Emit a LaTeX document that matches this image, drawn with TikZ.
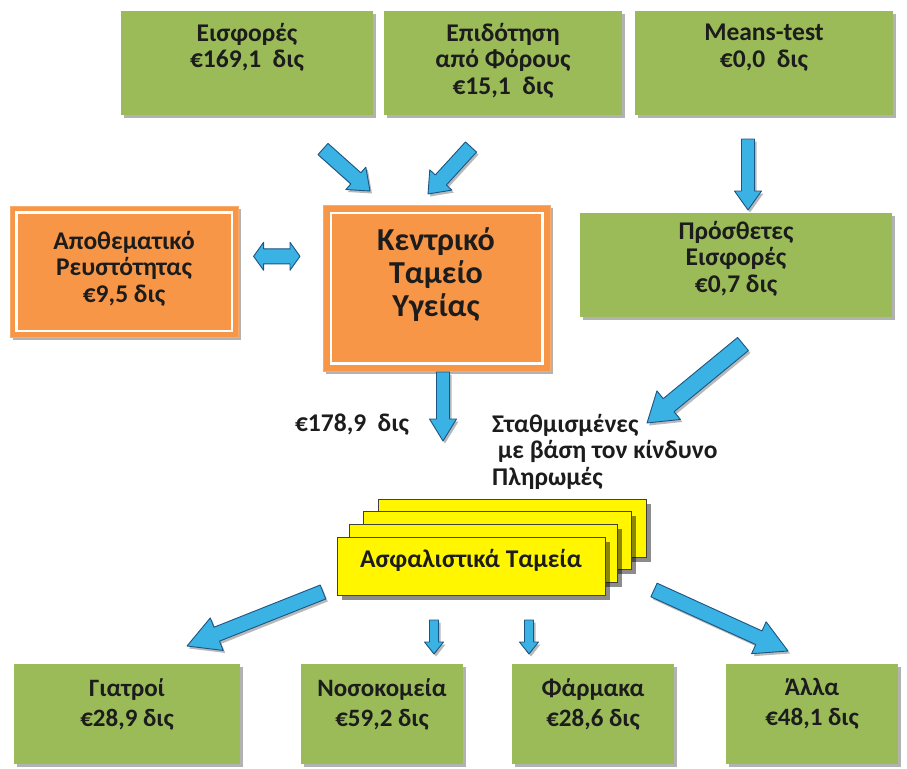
\documentclass[tikz,border=0pt]{standalone}
\usepackage{fontspec}
\setmainfont{Carlito}
\usetikzlibrary{calc,shadows}

\definecolor{boxgreen}{RGB}{155,187,89}
\definecolor{boxorange}{RGB}{247,150,70}
\definecolor{cardyellow}{RGB}{255,246,0}
\definecolor{arrowblue}{RGB}{58,178,228}
\definecolor{arrowedge}{RGB}{28,84,130}
\definecolor{inkdark}{RGB}{28,28,28}

\tikzset{
  boxshadow/.style={drop shadow={shadow xshift=3pt, shadow yshift=-3pt, opacity=0.3, fill=black}},
  greenbox/.style={rectangle, anchor=north west, inner sep=0pt, fill=boxgreen, draw=none, boxshadow},
  orangebox/.style={rectangle, anchor=north west, inner sep=0pt, fill=boxorange, draw=boxorange!80!white, line width=0.6pt, boxshadow},
  cardbox/.style={rectangle, anchor=north west, inner sep=0pt, minimum width=268pt, minimum height=58pt,
    fill=cardyellow, draw=black!75, line width=1.3pt,
    drop shadow={shadow xshift=4pt, shadow yshift=-4pt, opacity=0.45, fill=black}},
  boxtext/.style={inner sep=0pt, align=center, text=inkdark, font=\fontsize{25.5}{26.5}\selectfont\bfseries},
  bigtext/.style={inner sep=0pt, align=center, text=inkdark, font=\fontsize{32}{33}\selectfont\bfseries},
  lowtext/.style={inner sep=0pt, align=center, text=inkdark, font=\fontsize{25}{30}\selectfont\bfseries},
  blockarrow/.style={fill=arrowblue, draw=arrowedge, line width=0.9pt, line join=round},
  arrowshadow/.style={fill=black, opacity=0.28, draw=none},
}

% block arrow from tail #1 to tip #2; shaft width #3, head width #4, head length #5
\newcommand\blockarrow[5]{%
  \path let \p1=($(#2)-(#1)$) in \pgfextra{%
    \pgfmathsetmacro\baAng{atan2(\y1,\x1)}%
    \pgfmathsetmacro\baLen{veclen(\x1,\y1)}%
    \global\let\baAng\baAng \global\let\baLen\baLen};
  \begin{scope}[shift={(#1)}, xshift=2pt, yshift=-2.5pt, rotate=\baAng]
    \fill[arrowshadow] (0,-#3/2) -- ({\baLen-#5},-#3/2) -- ({\baLen-#5},-#4/2) -- (\baLen,0)
      -- ({\baLen-#5},#4/2) -- ({\baLen-#5},#3/2) -- (0,#3/2) -- cycle;
  \end{scope}
  \begin{scope}[shift={(#1)}, rotate=\baAng]
    \filldraw[blockarrow] (0,-#3/2) -- ({\baLen-#5},-#3/2) -- ({\baLen-#5},-#4/2) -- (\baLen,0)
      -- ({\baLen-#5},#4/2) -- ({\baLen-#5},#3/2) -- (0,#3/2) -- cycle;
  \end{scope}}

% horizontal two-headed block arrow between #2 and #3 (same height)
\newcommand\twowayarrow[6][blockarrow]{%
  \path[#1] let \p1=(#2), \p2=(#3) in
    (\x1,\y1) -- (\x1+#6pt,\y1+#5pt/2) -- (\x1+#6pt,\y1+#4pt/2) -- (\x2-#6pt,\y1+#4pt/2)
    -- (\x2-#6pt,\y1+#5pt/2) -- (\x2,\y1) -- (\x2-#6pt,\y1-#5pt/2) -- (\x2-#6pt,\y1-#4pt/2)
    -- (\x1+#6pt,\y1-#4pt/2) -- (\x1+#6pt,\y1-#5pt/2) -- cycle;}

\begin{document}
\begin{tikzpicture}[x=1pt, y=-1pt]
  \useasboundingbox (0,0) rectangle (907,768);

  % ---- sources
  \node[greenbox, minimum width=252pt, minimum height=104pt] (eisf) at (121,11) {};
  \node[greenbox, minimum width=238pt, minimum height=104pt] (epid) at (384,11) {};
  \node[greenbox, minimum width=258pt, minimum height=104pt] (means) at (635,11) {};
  \node[boxtext, anchor=north] (eisft) at (247,23) {Εισφορές\\€169,1\hspace{0.45em}δις};
  \node[boxtext, anchor=north] (epidt) at (503,23) {Επιδότηση\\από Φόρους\\€15,1\hspace{0.45em}δις};
  \node[boxtext, anchor=north] (meanst) at (764,24) {Means-test\\€0,0\hspace{0.45em}δις};

  % ---- central fund and reserve
  \node[orangebox, minimum width=228pt, minimum height=131pt] (rez) at (10,206) {};
  \draw[white, line width=2.6pt] ($(rez.north west)+(6.5,6.5)$) rectangle ($(rez.south east)+(-6.5,-6.5)$);
  \node[boxtext, anchor=north] (rezt) at (124,231) {Αποθεματικό\\Ρευστότητας\\€9,5 δις};

  \node[orangebox, minimum width=227pt, minimum height=166pt] (central) at (323,205) {};
  \draw[white, line width=2.6pt] ($(central.north west)+(8,8)$) rectangle ($(central.south east)+(-8,-8)$);
  \node[bigtext, anchor=north] (centralt) at (436,227) {Κεντρικό\\Ταμείο\\Υγείας};

  % ---- additional contributions
  \node[greenbox, minimum width=312pt, minimum height=104pt] (prosth) at (580,213) {};
  \node[boxtext, anchor=north] (prostht) at (736,221) {Πρόσθετες\\Εισφορές\\€0,7 δις};

  % ---- stacked insurance funds
  \node[cardbox] (card1) at (378,499) {};
  \node[cardbox] (card2) at (363,511) {};
  \node[cardbox] (card3) at (349,524) {};
  \node[cardbox] (card4) at (337,537) {};
  \node[boxtext, anchor=base] (cardt) at (471,567) {Ασφαλιστικά Ταμεία};

  % ---- expenditure
  \node[greenbox, minimum width=226pt, minimum height=100pt] (giatr) at (14,664) {};
  \node[greenbox, minimum width=162pt, minimum height=100pt] (nosok) at (301,664) {};
  \node[greenbox, minimum width=162pt, minimum height=100pt] (farm) at (512,664) {};
  \node[greenbox, minimum width=172pt, minimum height=100pt] (alla) at (726,664) {};
  \node[lowtext, anchor=north] (giatrt) at (127,678) {Γιατροί\\€28,9 δις};
  \node[lowtext, anchor=north] (nosokt) at (382,678) {Νοσοκομεία\\€59,2 δις};
  \node[lowtext, anchor=north] (farmt) at (593,678) {Φάρμακα\\€28,6 δις};
  \node[lowtext, anchor=north] (allat) at (812,678) {Άλλα\\€48,1 δις};

  % ---- flow labels
  \node[boxtext, anchor=base] (flowt) at (352,431) {€178,9\hspace{0.45em}δις};
  \node[boxtext, anchor=north west, align=left] (riskt) at (492,414)
    {Σταθμισμένες\\\ με βάση τον κίνδυνο\\Πληρωμές};

  % ---- arrow ends
  \coordinate (a1s) at (323,149);  \coordinate (a1e) at (370,191);
  \coordinate (a2s) at (471,147);  \coordinate (a2e) at (428,194);
  \coordinate (a3s) at (748,139);  \coordinate (a3e) at (748,210);
  \coordinate (a4s) at (443,372);  \coordinate (a4e) at (443,441);
  \coordinate (a5s) at (743,344);  \coordinate (a5e) at (647,423);
  \coordinate (a6s) at (323,592);  \coordinate (a6e) at (187,646);
  \coordinate (a7s) at (434,620);  \coordinate (a7e) at (434,654);
  \coordinate (a8s) at (529,620);  \coordinate (a8e) at (529,654);
  \coordinate (a9s) at (654,590);  \coordinate (a9e) at (788,651);

  \blockarrow{a1s}{a1e}{15}{30}{19}
  \blockarrow{a2s}{a2e}{15}{30}{19}
  \blockarrow{a3s}{a3e}{13}{27}{19}
  \blockarrow{a4s}{a4e}{13}{27}{22}
  \blockarrow{a5s}{a5e}{17}{37}{28}
  \blockarrow{a6s}{a6e}{15}{35}{32}
  \blockarrow{a7s}{a7e}{9}{19}{12}
  \blockarrow{a8s}{a8e}{9}{19}{12}
  \blockarrow{a9s}{a9e}{15}{35}{32}

  % ---- two-way arrow between reserve and central fund
  \coordinate (dl) at ($(rez.east)+(15,-15.5)$);
  \coordinate (dr) at ($(central.west)+(-23,-32)$);
  \begin{scope}[xshift=2pt, yshift=-2.5pt]
    \twowayarrow[arrowshadow]{dl}{dr}{15}{28}{10}
  \end{scope}
  \twowayarrow{dl}{dr}{15}{28}{10}
\end{tikzpicture}
\end{document}
